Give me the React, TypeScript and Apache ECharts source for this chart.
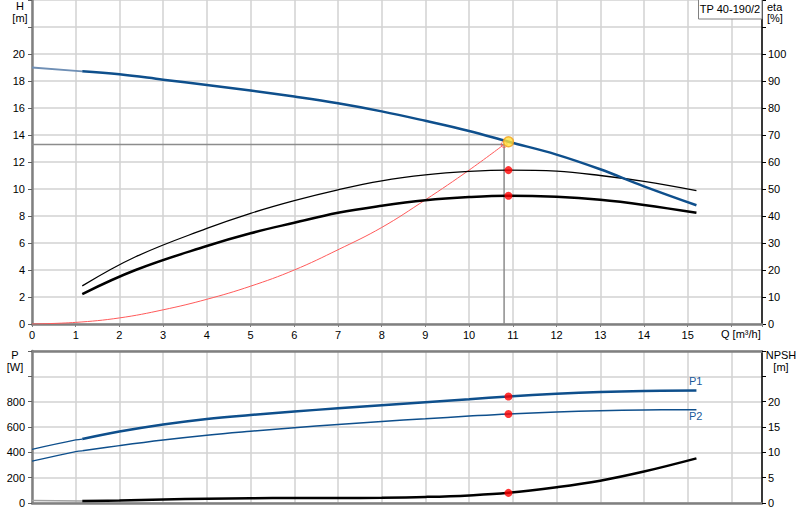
import React, { useEffect, useRef } from "react";
import * as echarts from "echarts";

// ---- data ----
const qMax = 16.7;

// Head curve (H, m)
const headPreQ = [0, 1.15];
const headPreH = [19.0, 18.72];
const pumpQ = [1.15, 2, 3, 4, 5, 6, 7, 8, 9, 10, 10.9, 12, 13, 14, 15.2];
const headH = [18.72, 18.5, 18.1, 17.7, 17.3, 16.85, 16.35, 15.75, 15.05, 14.3, 13.5, 12.55, 11.46, 10.2, 8.8];

// Efficiencies (eta, %)
const etaPumpQ = [1.15, 2.37, 4, 5, 6, 7, 8, 9, 10, 10.9, 12, 13, 14, 15.2];
const etaHydr = [14.1, 24.9, 35.4, 41, 45.7, 49.7, 53, 55.2, 56.5, 57, 56.6, 55, 52.8, 49.4];
const etaTotal = [11.1, 20, 28.9, 33.6, 37.5, 41.2, 43.8, 45.8, 47, 47.5, 47.1, 46, 44.1, 41.2];

// System curve
const sysQ = [0, 1, 2, 3, 4, 5, 6, 7, 8, 9, 10, 10.8];
const sysH = [0, 0.12, 0.45, 1.05, 1.83, 2.8, 4.0, 5.5, 7.15, 9.2, 11.4, 13.3];

// Duty point
const dutyReqQ = 10.8;
const dutyReqH = 13.3;
const dutyQ = 10.9;
const dutyH = 13.5;
const dutyEtaHydr = 57;
const dutyEtaTotal = 47.5;
const dutyP1 = 841;
const dutyP2 = 703;
const dutyNpsh = 2.0;

// Power (W)
const powerPreQ = [0, 1, 1.15];
const p1Pre = [424, 498, 505];
const p2Pre = [330, 406, 412];
const powerQ = [1.15, 2, 3, 4, 5, 6, 7, 8, 9, 10, 10.9, 12, 13, 14, 15.2];
const p1 = [505, 564, 620, 664, 695, 722, 748, 772, 796, 820, 841, 862, 876, 884, 888];
const p2 = [412, 453, 497, 535, 566, 594, 620, 644, 665, 686, 703, 718, 728, 734, 737];

// NPSH (m)
const npshPreQ = [0, 1.15];
const npshPre = [0.48, 0.4];
const npshQ = [1.15, 2, 3, 4, 5, 6, 7, 8, 9, 10, 10.9, 12, 13, 14, 15.2];
const npsh = [0.4, 0.5, 0.7, 0.85, 0.95, 1.0, 1.0, 1.05, 1.2, 1.5, 2.0, 3.1, 4.4, 6.2, 8.8];

const modelName = "TP 40-190/2";

const pairs = (xs: number[], ys: number[]) => xs.map((x, i) => [x, ys[i]]);

const FONT = "Liberation Sans, Arial, sans-serif";
const BLUE = "#0e4f8c";
const GRID = "#d2d2d2";
const AXIS_GRAY = "#808080";

export default function App() {
  const ref = useRef<HTMLDivElement>(null);

  useEffect(() => {
    if (!ref.current) return;
    const chart = echarts.init(ref.current, undefined, { renderer: "svg" });

    const labelStyle = { color: "#000", fontSize: 11, fontFamily: FONT };
    const gridLine = { show: true, lineStyle: { color: GRID, width: 1.5 } };

    const line = (
      name: string,
      data: number[][],
      color: string,
      width: number,
      xAxisIndex: number,
      yAxisIndex: number,
      z = 3
    ) => ({
      name,
      type: "line",
      data,
      xAxisIndex,
      yAxisIndex,
      smooth: 0.4,
      symbol: "none",
      lineStyle: { color, width },
      z,
      silent: true,
    });

    const dot = (data: number[][], xAxisIndex: number, yAxisIndex: number) => ({
      type: "scatter",
      data,
      xAxisIndex,
      yAxisIndex,
      symbol: "circle",
      symbolSize: 8,
      itemStyle: { color: "#ff0000" },
      z: 10,
      silent: true,
    });

    const txt = (text: string, x: number, y: number, align = "left", fill = "#000") => ({
      type: "text",
      x,
      y,
      z: 20,
      style: { text, fill, font: `11px ${FONT}`, align, verticalAlign: "middle" },
    });

    chart.setOption({
      animation: false,
      backgroundColor: "#fff",
      grid: [
        { left: 32, right: 38, top: 0, height: 324 },
        { left: 32, right: 38, top: 351, height: 152 },
      ],
      xAxis: [
        {
          gridIndex: 0,
          type: "value",
          min: 0,
          max: qMax,
          interval: 1,
          axisLine: { show: true, onZero: false, lineStyle: { color: AXIS_GRAY, width: 2.5 } },
          axisTick: { show: true, length: 3, lineStyle: { color: AXIS_GRAY } },
          axisLabel: {
            ...labelStyle,
            margin: 5,
            formatter: (v: number) => (v > 15.5 ? "" : String(v)),
          },
          splitLine: gridLine,
        },
        {
          gridIndex: 1,
          type: "value",
          min: 0,
          max: qMax,
          interval: 1,
          axisLine: { show: true, onZero: false, lineStyle: { color: AXIS_GRAY, width: 2.5 } },
          axisTick: { show: false },
          axisLabel: { show: false },
          splitLine: gridLine,
        },
        {
          gridIndex: 1,
          type: "value",
          position: "top",
          min: 0,
          max: qMax,
          interval: 1,
          axisLine: { show: true, onZero: false, lineStyle: { color: AXIS_GRAY, width: 2.5 } },
          axisTick: { show: false },
          axisLabel: { show: false },
          splitLine: { show: false },
        },
      ],
      yAxis: [
        {
          gridIndex: 0,
          type: "value",
          min: 0,
          max: 24,
          interval: 2,
          axisLine: { show: true, onZero: false, lineStyle: { color: AXIS_GRAY, width: 2.5 } },
          axisTick: { show: true, length: 4, lineStyle: { color: "#606060" } },
          axisLabel: { ...labelStyle, margin: 7, formatter: (v: number) => (v > 20 ? "" : String(v)) },
          splitLine: gridLine,
        },
        {
          gridIndex: 0,
          type: "value",
          position: "right",
          min: 0,
          max: 120,
          interval: 10,
          axisLine: { show: true, onZero: false, lineStyle: { color: "#000", width: 1.5 } },
          axisTick: { show: true, length: 4, lineStyle: { color: "#000" } },
          axisLabel: { ...labelStyle, margin: 6, formatter: (v: number) => (v > 100 ? "" : String(v)) },
          splitLine: { show: false },
        },
        {
          gridIndex: 1,
          type: "value",
          min: 0,
          max: 1200,
          interval: 200,
          axisLine: { show: true, onZero: false, lineStyle: { color: AXIS_GRAY, width: 2.5 } },
          axisTick: { show: true, length: 4, lineStyle: { color: "#606060" } },
          axisLabel: { ...labelStyle, margin: 7, formatter: (v: number) => (v > 800 ? "" : String(v)) },
          splitLine: gridLine,
        },
        {
          gridIndex: 1,
          type: "value",
          position: "right",
          min: 0,
          max: 30,
          interval: 5,
          axisLine: { show: true, onZero: false, lineStyle: { color: "#000", width: 1.5 } },
          axisTick: { show: true, length: 4, lineStyle: { color: "#000" } },
          axisLabel: { ...labelStyle, margin: 6, formatter: (v: number) => (v > 20 ? "" : String(v)) },
          splitLine: { show: false },
        },
      ],
      series: [
        // reference lines of required duty point
        {
          type: "line",
          data: [
            [0, dutyReqH],
            [dutyReqQ, dutyReqH],
            [dutyReqQ, 0],
          ],
          xAxisIndex: 0,
          yAxisIndex: 0,
          symbol: "none",
          lineStyle: { color: "#8c8c8c", width: 1.5 },
          z: 2,
          silent: true,
        },
        line("system", pairs(sysQ, sysH), "#ff5a5a", 1, 0, 0, 3),
        line("H pre", pairs(headPreQ, headPreH), "#6f8fb5", 1.8, 0, 0),
        line("H", pairs(pumpQ, headH), BLUE, 2.5, 0, 0, 4),
        line("eta hydr", pairs(etaPumpQ, etaHydr), "#000", 1.3, 0, 1),
        line("eta total", pairs(etaPumpQ, etaTotal), "#000", 2.5, 0, 1),
        dot([[dutyQ, dutyEtaHydr], [dutyQ, dutyEtaTotal]], 0, 1),
        {
          type: "scatter",
          data: [[dutyReqQ, dutyReqH]],
          xAxisIndex: 0,
          yAxisIndex: 0,
          symbol: "circle",
          symbolSize: 6,
          itemStyle: { color: "rgba(255,255,255,0)", borderColor: "#ff5050", borderWidth: 1 },
          z: 9,
          silent: true,
        },
        {
          type: "scatter",
          data: [[dutyQ, dutyH]],
          xAxisIndex: 0,
          yAxisIndex: 0,
          symbol: "circle",
          symbolSize: 10,
          itemStyle: { color: "#ffe23a", borderColor: "#f0a020", borderWidth: 1.5 },
          z: 11,
          silent: true,
        },
        // bottom panel
        line("P1 pre", pairs(powerPreQ, p1Pre), BLUE, 1.2, 1, 2),
        line("P1", pairs(powerQ, p1), BLUE, 2.5, 1, 2),
        line("P2 pre", pairs(powerPreQ, p2Pre), BLUE, 1.2, 1, 2),
        line("P2", pairs(powerQ, p2), BLUE, 1.5, 1, 2),
        line("NPSH pre", pairs(npshPreQ, npshPre), "#a0a0a0", 1.5, 1, 3),
        line("NPSH", pairs(npshQ, npsh), "#000", 2.5, 1, 3),
        dot([[dutyQ, dutyP1], [dutyQ, dutyP2]], 1, 2),
        dot([[dutyQ, dutyNpsh]], 1, 3),
      ],
      graphic: [
        txt("H", 20, 6, "center"),
        txt("[m]", 20, 18, "center"),
        txt("eta", 767, 7),
        txt("[%]", 767, 18),
        txt("P", 15, 355, "center"),
        txt("[W]", 15, 367, "center"),
        txt("NPSH", 781, 355, "center"),
        txt("[m]", 781, 367, "center"),
        txt("Q [m³/h]", 721, 334),
        txt("P1", 689, 381, "left", "#1a5a9a"),
        txt("P2", 689, 416, "left", "#1a5a9a"),
        {
          type: "rect",
          shape: { x: 698.5, y: -1, width: 63.5, height: 20 },
          style: { fill: "#fff", stroke: "#808080", lineWidth: 1 },
          z: 20,
        },
        {
          type: "text",
          x: 730,
          y: 9,
          z: 21,
          style: { text: modelName, fill: "#000", font: `11px ${FONT}`, align: "center", verticalAlign: "middle" },
        },
      ],
    });

    return () => chart.dispose();
  }, []);

  return (
    <div
      ref={ref}
      style={{ position: "fixed", left: 0, top: 0, width: 800, height: 520, background: "#fff" }}
    />
  );
}
